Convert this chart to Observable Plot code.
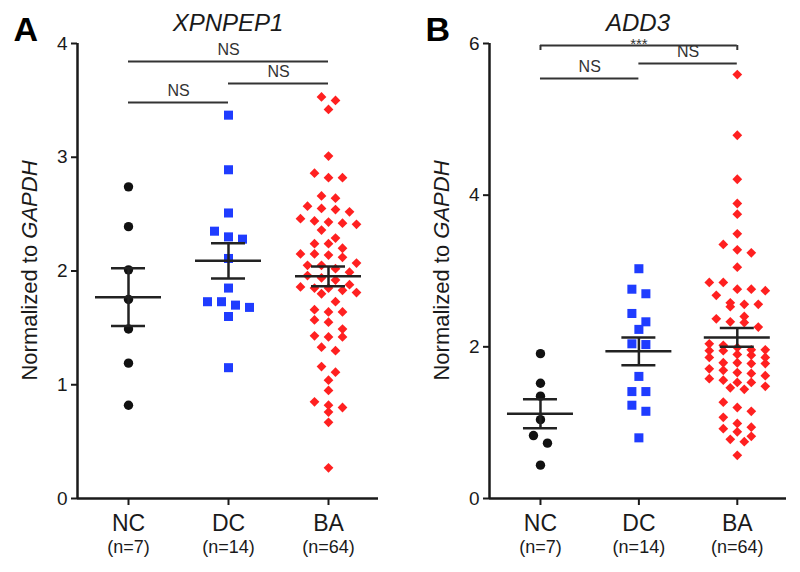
<!DOCTYPE html>
<html><head><meta charset="utf-8">
<script src="https://cdn.jsdelivr.net/npm/d3@7"></script>
<script src="https://cdn.jsdelivr.net/npm/@observablehq/plot@0.6"></script>
<style>
body{margin:0;background:#fff;}
#wrap{display:flex;width:800px;height:572px;overflow:hidden;}
</style></head><body><div id="wrap"></div>
<script>
// ---------- data ----------
const groups = ["NC", "DC", "BA"];
const groupN = ["(n=7)", "(n=14)", "(n=64)"];

const xpnpep1NC = [2.74, 2.39, 2.01, 1.75, 1.49, 1.19, 0.82];
const xpnpep1DC = [3.37, 2.89, 2.51, 2.35, 2.30, 2.28, 2.11, 1.85, 1.73, 1.73, 1.70, 1.68, 1.60, 1.15];
const xpnpep1BA = [3.53,3.50,3.42,3.01,2.86,2.82,2.82,2.66,2.64,2.57,2.55,2.54,2.52,2.46,2.44,2.43,2.42,2.41,2.36,2.29,
  2.24,2.24,2.20,2.15,2.15,2.14,2.12,2.07,2.05,2.05,2.02,1.99,1.96,1.94,1.92,1.88,1.86,1.85,1.85,1.83,
  1.81,1.80,1.73,1.66,1.64,1.64,1.57,1.55,1.49,1.43,1.42,1.42,1.33,1.30,1.16,1.11,1.04,0.95,0.85,0.82,
  0.80,0.76,0.67,0.27];

const add3NC = [1.91, 1.52, 1.35, 1.04, 0.83, 0.73, 0.44];
const add3DC = [3.03, 2.76, 2.70, 2.44, 2.33, 2.23, 2.04, 2.03, 1.61, 1.41, 1.41, 1.23, 1.15, 0.80];
const add3BA = [5.59,4.79,4.21,3.89,3.75,3.49,3.35,3.28,3.24,3.05,2.85,2.85,2.76,2.76,2.74,2.68,2.58,2.56,2.56,2.53,
  2.40,2.37,2.33,2.32,2.26,2.04,2.02,1.99,1.96,1.96,1.95,1.95,1.90,1.89,1.86,1.86,1.79,1.79,1.78,1.78,
  1.71,1.69,1.66,1.65,1.62,1.58,1.56,1.53,1.53,1.48,1.46,1.44,1.27,1.20,1.15,1.07,0.99,0.94,0.92,0.88,
  0.82,0.78,0.75,0.57];

const xpnpep1Ticks = [0, 1, 2, 3, 4];
const add3Ticks = [0, 2, 4, 6];

const xpnpep1Brackets = [
  {from: 0, to: 2, label: "NS"},
  {from: 1, to: 2, label: "NS"},
  {from: 0, to: 1, label: "NS"}
];
const add3Brackets = [
  {from: 0, to: 2, label: "***"},
  {from: 1, to: 2, label: "NS"},
  {from: 0, to: 1, label: "NS"}
];

// ---------- drawing ----------
const fontFam = '"Liberation Sans", Arial, Helvetica, sans-serif';
const W = 400, H = 572, MT = 43, MB = 74;

// scatter-dot layout: rows of nearby values spread into columns
function layoutGroup(values, gi, pxX, pxY, stepPx = 14, rowPx = 10, maxPerRow = 5) {
  const sorted = values.slice().sort((a, b) => b - a);
  const rows = [];
  let cur = null;
  for (const v of sorted) {
    if (cur && (cur.start - v) * pxY < rowPx && cur.items.length < maxPerRow) cur.items.push(v);
    else { cur = {start: v, items: [v]}; rows.push(cur); }
  }
  const out = [];
  for (const r of rows) {
    const n = r.items.length;
    r.items.forEach((v, i) => out.push({gi, value: v, x: gi + (i - (n - 1) / 2) * stepPx / pxX}));
  }
  return out;
}

function drawPanel(cfg) {
  const {ml, mr, xDomain, yMax, yTicks} = cfg;
  const pxX = (W - ml - mr) / (xDomain[1] - xDomain[0]);
  const pxY = (H - MT - MB) / yMax;
  const toX = px => px / pxX, toY = px => px / pxY;
  const pts = cfg.series.flatMap((vals, gi) => layoutGroup(vals, gi, pxX, pxY));
  const stats = cfg.series.map((vals, gi) => {
    const m = d3.mean(vals), se = d3.deviation(vals) / Math.sqrt(vals.length);
    return {gi, mean: m, lo: m - se, hi: m + se};
  });
  const br = cfg.brackets.map((b, i) => ({...b, y: yMax - toY(cfg.bracketPx[i]), tick: cfg.bracketTick[i]}));
  const brTicks = br.filter(d => d.tick).flatMap(d => [{x: d.from, y: d.y}, {x: d.to, y: d.y}]);
  const ink = "#1a1a1a";

  const svg = Plot.plot({
    width: W, height: H, marginTop: MT, marginBottom: MB, marginLeft: ml, marginRight: mr,
    x: {domain: xDomain, axis: null},
    y: {domain: [0, yMax], axis: null},
    style: {fontFamily: fontFam, fontSize: "18px", color: ink, background: "#fff", overflow: "visible"},
    marks: [
      Plot.axisY({ticks: yTicks, tickFormat: d3.format("d"), tickSize: 6, tickPadding: 4, fontSize: 19, strokeWidth: 2, label: null}),
      Plot.ruleX([0, 1, 2], {y1: 0, y2: -toY(7), strokeWidth: 2, stroke: ink}),
      Plot.ruleX([xDomain[0]], {y1: 0, y2: yMax, strokeWidth: 2.5, stroke: ink}),
      Plot.ruleY([0], {strokeWidth: 2.5, stroke: ink}),
      Plot.dot(pts.filter(d => d.gi === 0), {x: "x", y: "value", symbol: "circle", r: 4.7, fill: "#111"}),
      Plot.dot(pts.filter(d => d.gi === 1), {x: "x", y: "value", symbol: "square", r: 5.1, fill: "#1f3cff"}),
      Plot.dot(pts.filter(d => d.gi === 2), {x: "x", y: "value", symbol: "diamond2", r: 4.4, fill: "#ff2020"}),
      Plot.ruleY(stats, {y: "mean", x1: d => d.gi - toX(33), x2: d => d.gi + toX(33), strokeWidth: 2.5, stroke: "#222"}),
      Plot.ruleY(stats, {y: "hi", x1: d => d.gi - toX(17), x2: d => d.gi + toX(17), strokeWidth: 2.5, stroke: "#222"}),
      Plot.ruleY(stats, {y: "lo", x1: d => d.gi - toX(17), x2: d => d.gi + toX(17), strokeWidth: 2.5, stroke: "#222"}),
      Plot.ruleX(stats, {x: "gi", y1: "lo", y2: "hi", strokeWidth: 2.5, stroke: "#222"}),
      Plot.ruleY(br, {y: "y", x1: "from", x2: "to", stroke: "#333", strokeWidth: 2}),
      Plot.ruleX(brTicks, {x: "x", y1: "y", y2: d => d.y - toY(5), stroke: "#333", strokeWidth: 2}),
      Plot.text(br.filter(d => d.label === "NS"), {x: d => (d.from + d.to) / 2, y: "y", text: "label", dy: -7, lineAnchor: "bottom", fontSize: 16, fill: "#333"}),
      Plot.text(br.filter(d => d.label !== "NS"), {x: d => (d.from + d.to) / 2, y: "y", text: "label", dy: 3, lineAnchor: "bottom", fontSize: 15, fill: "#333"}),
      Plot.text(groups, {x: (d, i) => i, frameAnchor: "bottom", dy: 32, lineAnchor: "bottom", fontSize: 23, fill: ink}),
      Plot.text(groupN, {x: (d, i) => i, frameAnchor: "bottom", dy: 54, lineAnchor: "bottom", fontSize: 18, fill: ink}),
      Plot.text([cfg.title], {frameAnchor: "top", dy: -13, lineAnchor: "bottom", fontSize: 24, fontStyle: "italic", fill: ink}),
      Plot.text([cfg.letter], {frameAnchor: "top-left", dx: -64, dy: -3, textAnchor: "start", lineAnchor: "bottom", fontSize: 34, fontWeight: "bold", fill: "#000"})
    ]
  });

  const t = d3.select(svg).append("text")
    .attr("transform", `translate(${ml - 40},${(MT + H - MB) / 2}) rotate(-90)`)
    .attr("text-anchor", "middle")
    .attr("font-size", 22)
    .attr("fill", ink);
  t.append("tspan").text("Normalized to ");
  t.append("tspan").attr("font-style", "italic").text("GAPDH");
  return svg;
}

const wrap = document.getElementById("wrap");
wrap.append(drawPanel({
  title: "XPNPEP1", letter: "A",
  series: [xpnpep1NC, xpnpep1DC, xpnpep1BA],
  ml: 77, mr: 22, xDomain: [-0.51, 2.5], yMax: 4, yTicks: xpnpep1Ticks,
  brackets: xpnpep1Brackets, bracketPx: [18, 40, 59], bracketTick: [false, false, false]
}));
wrap.append(drawPanel({
  title: "ADD3", letter: "B",
  series: [add3NC, add3DC, add3BA],
  ml: 89, mr: 14, xDomain: [-0.518, 2.5], yMax: 6, yTicks: add3Ticks,
  brackets: add3Brackets, bracketPx: [2, 20, 35], bracketTick: [true, false, false]
}));
</script>
</body></html>
